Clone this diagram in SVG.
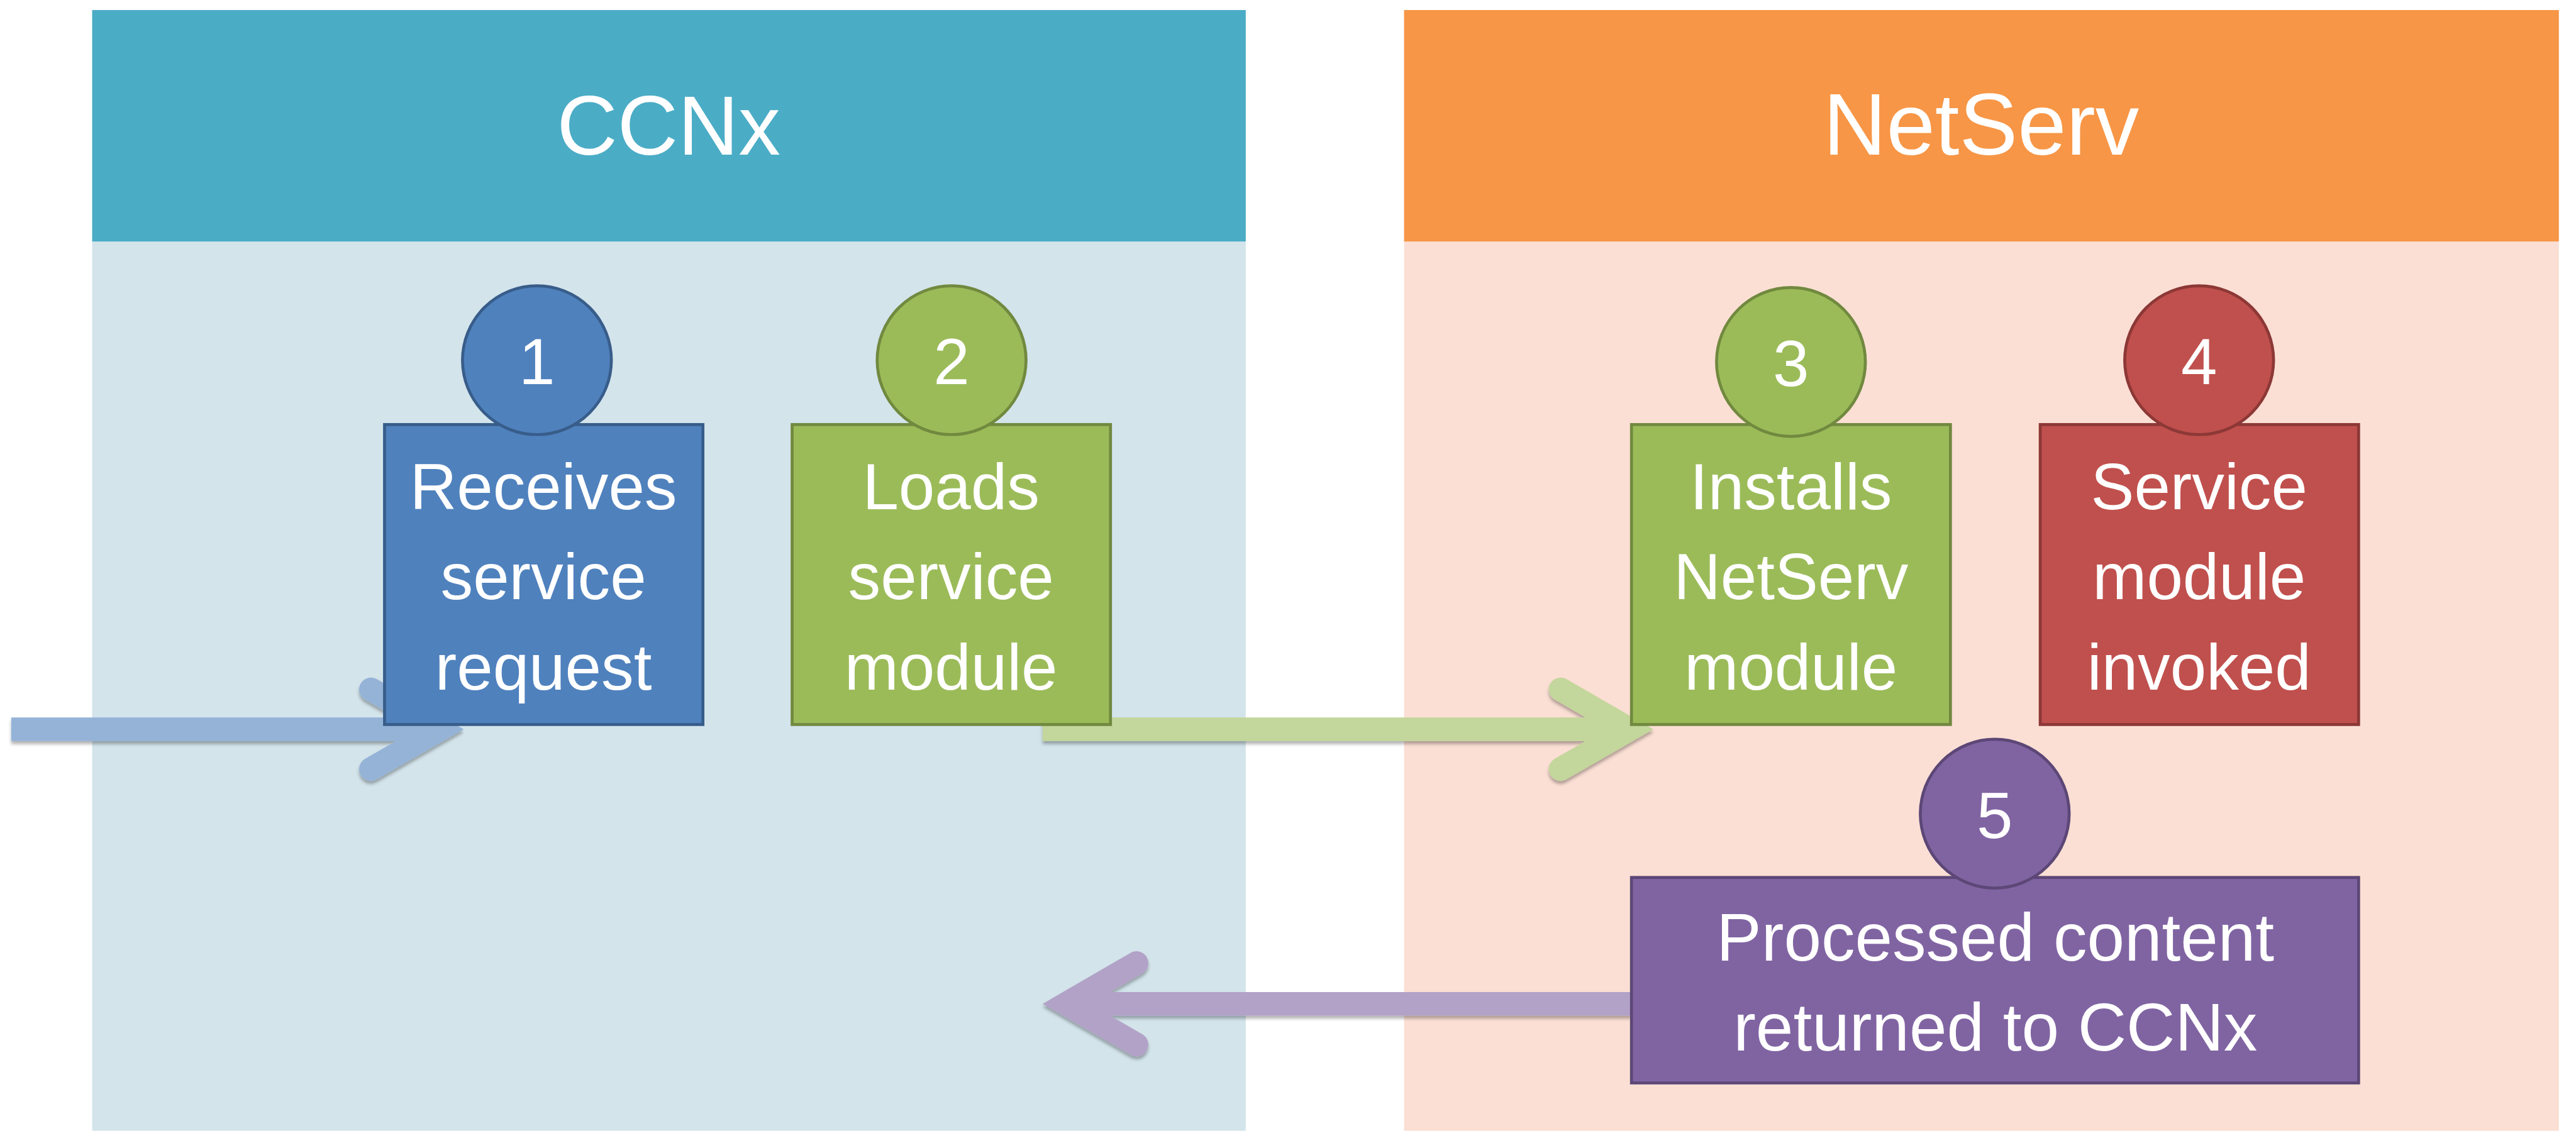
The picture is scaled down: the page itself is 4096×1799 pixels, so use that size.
<svg xmlns="http://www.w3.org/2000/svg" width="4096" height="1799" viewBox="0 0 4096 1799">
<defs>
<style>
.hdr{font-family:"Liberation Sans",Arial,sans-serif;font-size:142px;fill:#fff;text-anchor:middle}
.lbl{font-family:"Liberation Sans",Arial,sans-serif;font-size:110px;fill:#fff;text-anchor:middle}
.wide{font-size:114px}
.shaft{fill:none;stroke-width:40;stroke-linecap:butt}
.head{fill:none;stroke-width:40;stroke-linecap:round;stroke-linejoin:miter;stroke-miterlimit:4}
.bx{stroke-width:5}
</style>
<filter id="sh" x="-5%" y="-20%" width="110%" height="150%">
<feDropShadow dx="0" dy="5" stdDeviation="3" flood-color="#000" flood-opacity="0.3"/>
</filter>
</defs>
<rect x="0" y="0" width="4096" height="1799" fill="#fff"/>
<g transform="scale(0.93923)">
<g id="panel-ccnx">
<rect x="156" y="409" width="1953" height="1506" fill="#d3e4eb"/>
<rect x="156" y="17" width="1953" height="392" fill="#4bacc6"/>
<text class="hdr" x="1132" y="262">CCNx</text>
</g>
<g id="panel-netserv">
<rect x="2377" y="409" width="1955" height="1506" fill="#fbdfd4"/>
<rect x="2377" y="17" width="1955" height="392" fill="#f79646"/>
<text class="hdr" x="3354" y="262" style="font-size:148px">NetServ</text>
</g>
<g id="connectors">
<g filter="url(#sh)" stroke="#95b3d7">
<path class="shaft" d="M19,1235 H748"/>
<path class="head" d="M628,1167.5 L745,1235 L628,1302.5"/>
</g>
<g filter="url(#sh)" stroke="#c3d69b">
<path class="shaft" d="M1765,1235 H2762"/>
<path class="head" d="M2642,1167.5 L2759,1235 L2642,1302.5"/>
</g>
<g filter="url(#sh)" stroke="#b2a2c7">
<path class="shaft" d="M1802,1700 H2762"/>
<path class="head" d="M1924,1631 L1805,1700 L1924,1769"/>
</g>
</g>
<g id="node1">
<rect class="bx" x="651" y="719" width="539" height="508" fill="#4f81bd" stroke="#385d8a"/>
<text class="lbl" x="920" y="862">Receives</text>
<text class="lbl" x="920" y="1015">service</text>
<text class="lbl" x="920" y="1168">request</text>
<circle class="bx" cx="909" cy="610" r="126" fill="#4f81bd" stroke="#385d8a"/>
<text class="lbl" x="909" y="651">1</text>
</g>
<g id="node2">
<rect class="bx" x="1341" y="719" width="539" height="508" fill="#9bbb59" stroke="#71893f"/>
<text class="lbl" x="1610" y="862">Loads</text>
<text class="lbl" x="1610" y="1015">service</text>
<text class="lbl" x="1610" y="1168">module</text>
<circle class="bx" cx="1611" cy="610" r="126" fill="#9bbb59" stroke="#71893f"/>
<text class="lbl" x="1611" y="651">2</text>
</g>
<g id="node3">
<rect class="bx" x="2762" y="719" width="540" height="508" fill="#9bbb59" stroke="#71893f"/>
<text class="lbl" x="3032" y="862">Installs</text>
<text class="lbl" x="3032" y="1015">NetServ</text>
<text class="lbl" x="3032" y="1168">module</text>
<circle class="bx" cx="3032" cy="613" r="126" fill="#9bbb59" stroke="#71893f"/>
<text class="lbl" x="3032" y="654">3</text>
</g>
<g id="node4">
<rect class="bx" x="3454" y="719" width="539" height="508" fill="#c0504d" stroke="#8c3836"/>
<text class="lbl" x="3723" y="862">Service</text>
<text class="lbl" x="3723" y="1015">module</text>
<text class="lbl" x="3723" y="1168">invoked</text>
<circle class="bx" cx="3723" cy="610" r="126" fill="#c0504d" stroke="#8c3836"/>
<text class="lbl" x="3723" y="651">4</text>
</g>
<g id="node5">
<rect class="bx" x="2762" y="1486" width="1231" height="348" fill="#8064a2" stroke="#5c4776"/>
<text class="lbl wide" x="3378" y="1627">Processed content</text>
<text class="lbl wide" x="3378" y="1779">returned to CCNx</text>
<circle class="bx" cx="3377" cy="1378" r="126" fill="#8064a2" stroke="#5c4776"/>
<text class="lbl" x="3377" y="1419">5</text>
</g>
</g>
</svg>
